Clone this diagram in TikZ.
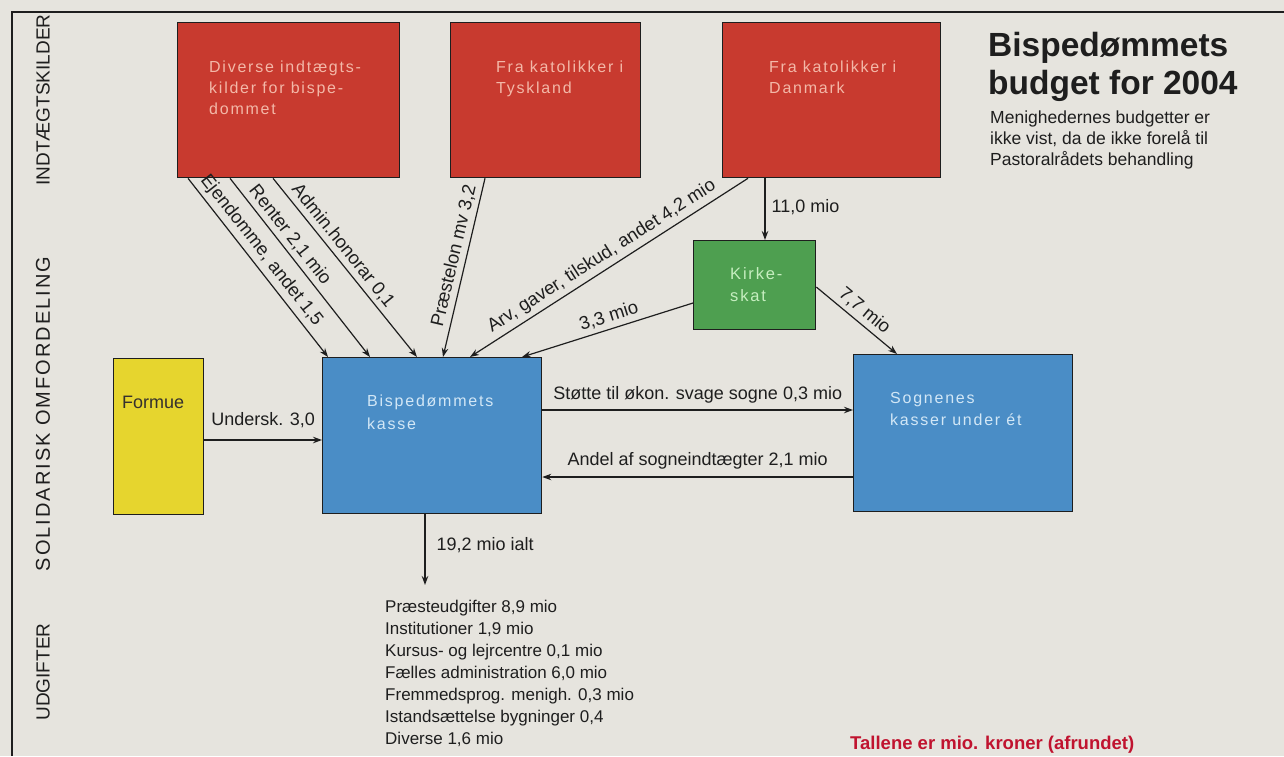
\documentclass[tikz,border=0pt]{standalone}
\usepackage{fontspec}
\setmainfont{Liberation Sans}
\newfontfamily\boxfont[LetterSpace=11]{Liberation Sans}
\newfontfamily\widefont[LetterSpace=10]{Liberation Sans}
\usetikzlibrary{arrows.meta,calc}
\definecolor{bg}{HTML}{E6E4DE}
\definecolor{boxred}{HTML}{C83A2F}
\definecolor{boxgreen}{HTML}{4E9F50}
\definecolor{boxblue}{HTML}{4A8DC6}
\definecolor{boxyellow}{HTML}{E6D52E}
\definecolor{redtxt}{HTML}{F3B8A8}
\definecolor{bluetxt}{HTML}{D2E7F6}
\definecolor{greentxt}{HTML}{C6EEC0}
\definecolor{notered}{HTML}{C0132F}
\definecolor{ink}{HTML}{1E1E1E}
\begin{document}
\begin{tikzpicture}[x=1pt,y=-1pt,
  box/.style={draw=ink, line width=1.3pt, anchor=north west, inner sep=0pt},
  redbox/.style={box, fill=boxred, minimum height=155pt},
  btext/.style={anchor=north west, inner sep=0pt, align=left, font={\boxfont\fontsize{16}{21}\selectfont}},
  arr/.style={draw=ink, line width=1.2pt, -{Stealth[length=9pt,width=6.5pt]}},
  slab/.style={sloped, above=4pt, inner sep=0pt, font=\fontsize{18.5}{20}\selectfont, text=ink},
  hlab/.style={inner sep=0pt, font=\fontsize{18}{20}\selectfont, text=ink},
  side/.style={rotate=90, inner sep=0pt, font=\fontsize{19}{20}\selectfont, text=ink}
]
\useasboundingbox (0,0) rectangle (1284,756);
\fill[bg] (0,0) rectangle (1284,756);
\draw[ink, line width=2pt] (1284,12) -- (12,12) -- (12,756);

% side labels
\node[side] (s1) at (43,100) {INDTÆGTSKILDER};
\node[side, font={\widefont\fontsize{20}{22}\selectfont}] (s2) at (43,414) {SOLIDARISK OMFORDELING};
\node[side] (s3) at (43,672) {UDGIFTER};

% boxes
\node[redbox, minimum width=222pt] (r1) at (177,22) {};
\node[redbox, minimum width=190pt] (r2) at (450,22) {};
\node[redbox, minimum width=218pt] (r3) at (722,22) {};
\node[box, fill=boxgreen, minimum width=122pt, minimum height=89pt] (g) at (693,240) {};
\node[box, fill=boxblue, minimum width=219pt, minimum height=156pt] (b1) at (322,357) {};
\node[box, fill=boxblue, minimum width=219pt, minimum height=157pt] (b2) at (853,354) {};
\node[box, fill=boxyellow, minimum width=90pt, minimum height=156pt] (f) at (113,358) {};

% box texts
\node[btext, text=redtxt] (t1) at (209,61) {Diverse indtægts-\\kilder for bispe-\\dommet};
\node[btext, text=redtxt] (t2) at (496,61) {Fra katolikker i\\Tyskland};
\node[btext, text=redtxt] (t3) at (769,61) {Fra katolikker i\\Danmark};
\node[btext, text=greentxt, font={\boxfont\fontsize{16.5}{22}\selectfont}] (tg) at (730,267) {Kirke-\\skat};
\node[btext, text=bluetxt, font={\boxfont\fontsize{16}{23}\selectfont}] (tb1) at (367,395) {Bispedømmets\\kasse};
\node[btext, text=bluetxt, font={\boxfont\fontsize{16}{22}\selectfont}] (tb2) at (890,392) {Sognenes\\kasser under ét};
\node[hlab, anchor=west, text=black!80!yellow!40!black] (tf) at (122,402) {Formue};

% title
\node[anchor=base west, inner sep=0pt, font=\bfseries\fontsize{33.5}{38}\selectfont, text=ink] (title1) at (988,56) {Bispedømmets};
\node[anchor=base west, inner sep=0pt, font=\bfseries\fontsize{33.5}{38}\selectfont, text=ink] (title2) at (988,94) {budget for 2004};
\node[anchor=north west, inner sep=0pt, align=left, font=\fontsize{17.5}{21}\selectfont, text=ink] (sub) at (990,111) {Menighedernes budgetter er\\ikke vist, da de ikke forelå til\\Pastoralrådets behandling};

% incoming arrows
\draw[arr] ([xshift=11pt]r1.south west) -- node[slab,pos=.45]{Ejendomme, andet 1,5} ([xshift=6pt]b1.north west);
\draw[arr] ([xshift=53pt]r1.south west) -- node[slab,pos=.36]{Renter 2,1 mio} ([xshift=48pt]b1.north west);
\draw[arr] ([xshift=96pt]r1.south west) -- node[slab,pos=.42]{Admin.honorar 0,1} ([xshift=95pt]b1.north west);
\draw[arr] ([xshift=35pt]r2.south west) -- node[slab,pos=.45]{Præstelon mv 3,2} ([xshift=121pt]b1.north west);
\draw[arr] ([xshift=26pt]r3.south west) -- node[slab,pos=.5]{Arv, gaver, tilskud, andet 4,2 mio} ([xshift=148pt]b1.north west);
\draw[arr] ([xshift=43pt]r3.south west) -- node[hlab,pos=.47,right=6pt]{11,0 mio} ([xshift=72pt]g.north west);
\draw[arr] ([yshift=-63pt]g.north west) -- node[slab,pos=.47]{3,3 mio} ([xshift=200pt]b1.north west);
\draw[arr] ([yshift=-47pt]g.north east) -- node[slab,pos=.5]{7,7 mio} ([xshift=44pt]b2.north west);

% horizontal flows
\draw[arr] ([yshift=-82pt]f.north east) -- node[hlab,midway,above=12pt]{Undersk. 3,0} ([yshift=-83pt]b1.north west);
\draw[arr] ([yshift=-53pt]b1.north east) -- node[hlab,midway,above=6pt]{Støtte til økon. svage sogne 0,3 mio} ([yshift=-56pt]b2.north west);
\draw[arr] ([yshift=-123pt]b2.north west) -- node[hlab,midway,above=7pt]{Andel af sogneindtægter 2,1 mio} ([yshift=-120pt]b1.north east);

% expenses
\coordinate (expend) at (425,585);
\draw[arr] ([xshift=103pt]b1.south west) -- node[hlab,pos=.44,right=11pt]{19,2 mio ialt} (expend);
\node[anchor=north west, inner sep=0pt, align=left, font=\fontsize{17}{22}\selectfont, text=ink] (exp) at (385,600) {Præsteudgifter 8,9 mio\\Institutioner 1,9 mio\\Kursus- og lejrcentre 0,1 mio\\Fælles administration 6,0 mio\\Fremmedsprog. menigh. 0,3 mio\\Istandsættelse bygninger 0,4\\Diverse 1,6 mio};

\node[anchor=base west, inner sep=0pt, font=\bfseries\fontsize{18.5}{20}\selectfont, text=notered] (note) at (850,749) {Tallene er mio. kroner (afrundet)};
\end{tikzpicture}
\end{document}
